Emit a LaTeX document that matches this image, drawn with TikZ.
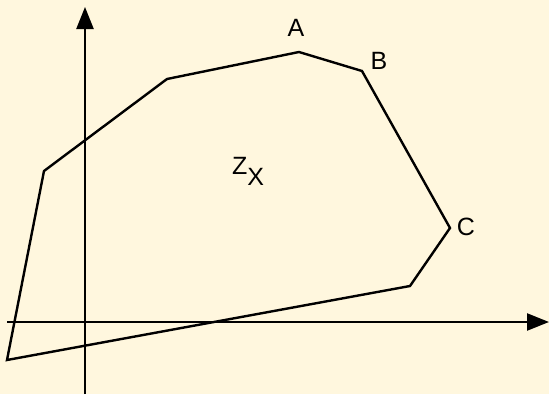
\documentclass[tikz,border=0pt]{standalone}
\usepackage{fontspec}
\setmainfont{Liberation Sans}
\usetikzlibrary{arrows.meta}
\definecolor{paper}{RGB}{255,247,222}

\begin{document}
\begin{tikzpicture}[x=1pt, y=-1pt, line width=2.4pt,
    every node/.style={font=\fontsize{25}{30}\selectfont, inner sep=0pt},
    axis/.style={-{Triangle[length=22pt,width=17pt]}}]
          \fill [paper] (0,0) rectangle (549,394);
          \useasboundingbox (0,0) rectangle (549,394);
          \coordinate (xstart) at (7,322);
          \coordinate (xend) at (549,322);
          \coordinate (ystart) at (85,394);
          \coordinate (yend) at (85,7);
          \draw [axis] (xstart) -- (xend);
          \draw [axis] (ystart) -- (yend);

          \coordinate (p1) at (7,360);
          \coordinate (p2) at (44,171);
          \coordinate (p3) at (167,79);
          \coordinate (pA) at (299,52);
          \coordinate (pB) at (362,71);
          \coordinate (pC) at (450,228);
          \coordinate (p7) at (410,286);
          \draw [line join=miter] (p1) -- (p2) -- (p3) -- (pA) -- (pB) -- (pC) -- (p7) -- cycle;

          \node (labelA) at (296,28) {A};
          \node (labelB) at (379,61) {B};
          \node (labelC) at (466,227) {C};
          \node (labelZ) [anchor=base west] at (231,174) {Z\raisebox{-11pt}{X}};
        \end{tikzpicture}
\end{document}
